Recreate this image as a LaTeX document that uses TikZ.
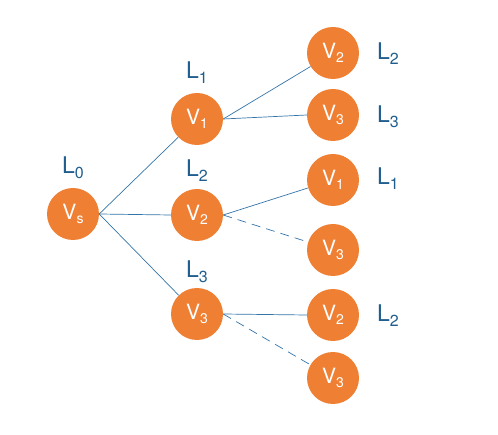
\documentclass[tikz,border=0pt]{standalone}
\usepackage{fontspec}
\setmainfont{TeX Gyre Heros}
\definecolor{vorange}{HTML}{EE7F33}
\definecolor{lblue}{HTML}{1F5E8E}
\definecolor{eblue}{HTML}{3474A8}
\newcommand\vsub[1]{\raisebox{-0.22em}{\fontsize{14}{14}\selectfont #1}}
\newcommand\lsub[1]{\raisebox{-0.22em}{\fontsize{16}{16}\selectfont #1}}
\begin{document}
\begin{tikzpicture}[x=1pt,y=-1pt,
  vert/.style={circle,fill=vorange,minimum size=52pt,inner sep=0pt,text=white,font=\fontsize{21}{21}\selectfont},
  lvl/.style={text=lblue,font=\fontsize{23}{23}\selectfont,inner sep=0pt},
  edge/.style={draw=eblue,line width=0.7pt},
  dedge/.style={edge,dash pattern=on 9pt off 6pt}]
\useasboundingbox (0,0) rectangle (498,435);
\node[vert] (vs) at (73,214) {V\vsub{s}};
\node[vert] (a1) at (197,119) {V\vsub{1}};
\node[vert] (a2) at (197,215) {V\vsub{2}};
\node[vert] (a3) at (197,314) {V\vsub{3}};
\node[vert] (b1) at (333,53) {V\vsub{2}};
\node[vert] (b2) at (333,115) {V\vsub{3}};
\node[vert] (b3) at (333,180) {V\vsub{1}};
\node[vert] (b4) at (333,250) {V\vsub{3}};
\node[vert] (b5) at (333,315) {V\vsub{2}};
\node[vert] (b6) at (333,378) {V\vsub{3}};
\node[lvl] (l0) at (73,168) {L\lsub{0}};
\node[lvl] (l1) at (197,73) {L\lsub{1}};
\node[lvl] (l2) at (197,171) {L\lsub{2}};
\node[lvl] (l3) at (197,272) {L\lsub{3}};
\node[lvl] (r1) at (388,54) {L\lsub{2}};
\node[lvl] (r2) at (388,117) {L\lsub{3}};
\node[lvl] (r3) at (388,179) {L\lsub{1}};
\node[lvl] (r5) at (388,316) {L\lsub{2}};
\draw[edge] (vs.east) -- (a1);
\draw[edge] (vs.east) -- (a2.west);
\draw[edge] (vs.east) -- (a3);
\draw[edge] (a1.east) -- (b1);
\draw[edge] (a1.east) -- (b2.west);
\draw[edge] (a2.east) -- (b3);
\draw[dedge] (a2.east) -- (b4);
\draw[edge] (a3.east) -- (b5.west);
\draw[dedge] (a3.east) -- (b6);
\end{tikzpicture}
\end{document}
